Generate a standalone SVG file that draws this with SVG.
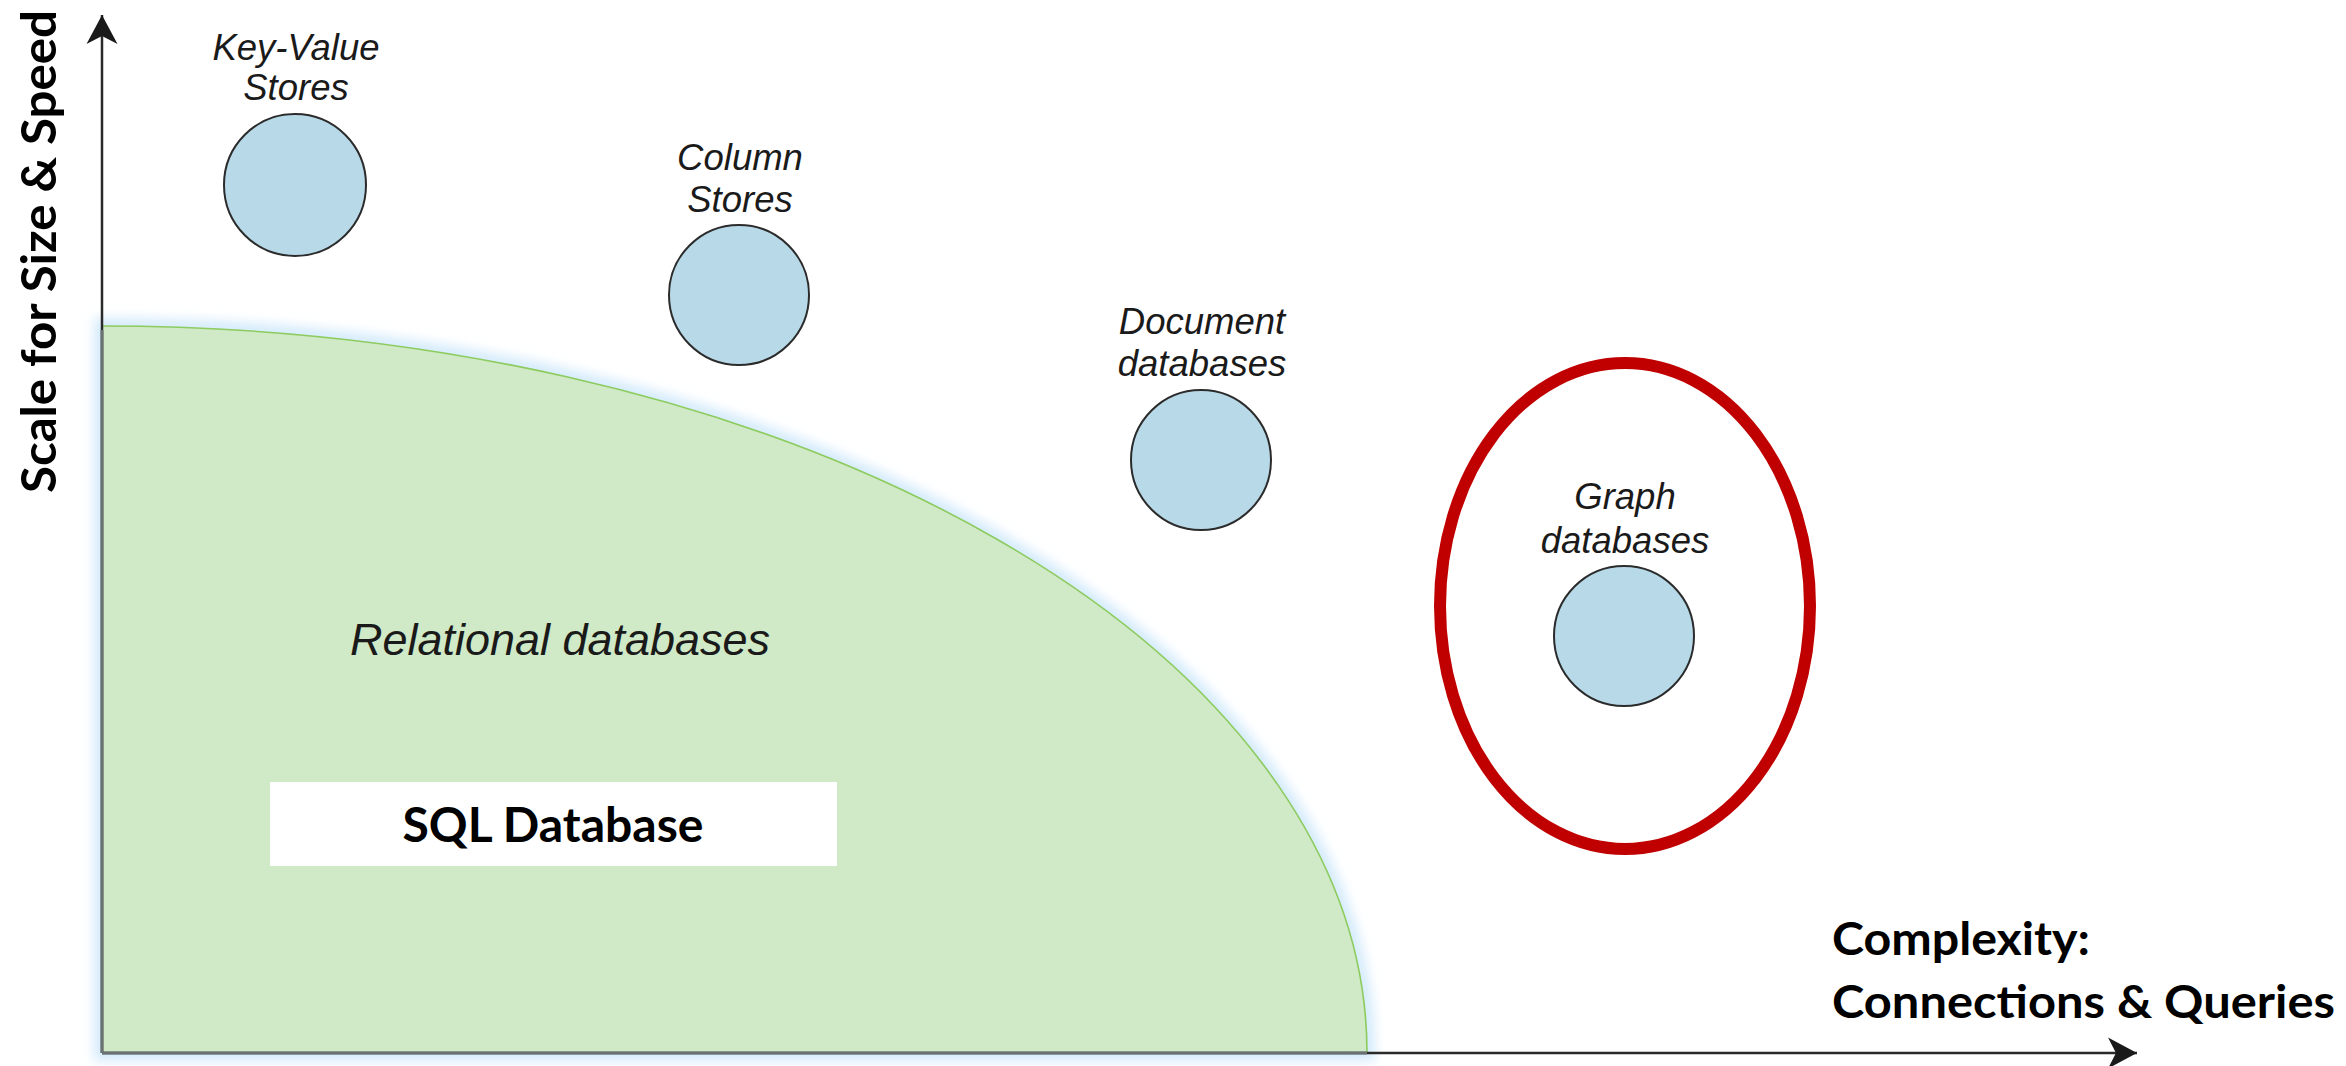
<svg xmlns="http://www.w3.org/2000/svg" width="2346" height="1066" viewBox="0 0 2346 1066">
<defs>
<style>
.bubble { fill: #B8DAE8; stroke: #2b2b2b; stroke-width: 2; }
.lbl { font-family: "Liberation Sans", Arial, sans-serif; font-style: italic; font-size: 36.5px; fill: #1a1a1a; text-anchor: middle; }
.big { font-size: 45px; }
.bold { font-family: Lato, "Open Sans", sans-serif; font-weight: bold; fill: #000; }
.axis { stroke: #2a2a2a; stroke-width: 2.5; fill: none; }
</style>
<filter id="glow" x="-10%" y="-10%" width="120%" height="120%">
<feGaussianBlur stdDeviation="6"/>
</filter>
<marker id="arrow" viewBox="-31 -17 33 34" refX="0" refY="0" markerWidth="33" markerHeight="34" markerUnits="userSpaceOnUse" orient="auto">
<path d="M0,0 L-29,-15.5 L-21,0 L-29,15.5 Z" fill="#1a1a1a"/>
</marker>
</defs>
<rect width="2346" height="1066" fill="#ffffff"/>

<g id="relational-region">
<path d="M102,326 A1265,727 0 0 1 1367,1053 L102,1053 Z" fill="none" stroke="#D3EAFB" stroke-width="16" filter="url(#glow)"/>
<path d="M102,326 A1265,727 0 0 1 1367,1053 L102,1053 Z" fill="#D0E9C6"/>
<path d="M102,326 A1265,727 0 0 1 1367,1053" fill="none" stroke="#8CCB5E" stroke-width="1.6"/>
<text class="lbl big" x="560" y="655" textLength="420" lengthAdjust="spacingAndGlyphs">Relational databases</text>
</g>

<g id="connectors">
<path class="axis" d="M102,1053 L102,15" marker-end="url(#arrow)"/>
<path class="axis" d="M102,1053 L2137,1053" marker-end="url(#arrow)"/>
<path d="M102,1053 L102,330 M102,1053 L1367,1053" fill="none" stroke="#6a7373" stroke-width="3"/>
</g>

<g id="sql-database">
<rect x="270" y="782" width="567" height="84" fill="#ffffff"/>
<text class="bold" x="553" y="842" font-size="47" text-anchor="middle" textLength="301" lengthAdjust="spacingAndGlyphs">SQL Database</text>
</g>

<g id="key-value-stores">
<text class="lbl" x="296" y="60">Key-Value</text>
<text class="lbl" x="296" y="100">Stores</text>
<circle class="bubble" cx="295" cy="185" r="71"/>
</g>

<g id="column-stores">
<text class="lbl" x="740" y="170">Column</text>
<text class="lbl" x="740" y="212">Stores</text>
<circle class="bubble" cx="739" cy="295" r="70"/>
</g>

<g id="document-databases">
<text class="lbl" x="1202" y="334">Document</text>
<text class="lbl" x="1202" y="376">databases</text>
<circle class="bubble" cx="1201" cy="460" r="70"/>
</g>

<g id="graph-databases">
<ellipse cx="1625" cy="606" rx="185" ry="243" fill="none" stroke="#C00000" stroke-width="12"/>
<text class="lbl" x="1625" y="509">Graph</text>
<text class="lbl" x="1625" y="553">databases</text>
<circle class="bubble" cx="1624" cy="636" r="70"/>
</g>

<g id="y-axis-label">
<text class="bold" transform="translate(56,493) rotate(-90)" x="0" y="0" font-size="48" textLength="483" lengthAdjust="spacingAndGlyphs">Scale for Size &amp; Speed</text>
</g>

<g id="x-axis-label">
<text class="bold" x="1832" y="955" font-size="45" textLength="258" lengthAdjust="spacingAndGlyphs">Complexity:</text>
<text class="bold" x="1832" y="1018" font-size="45" textLength="503" lengthAdjust="spacingAndGlyphs">Connections &amp; Queries</text>
</g>
</svg>
